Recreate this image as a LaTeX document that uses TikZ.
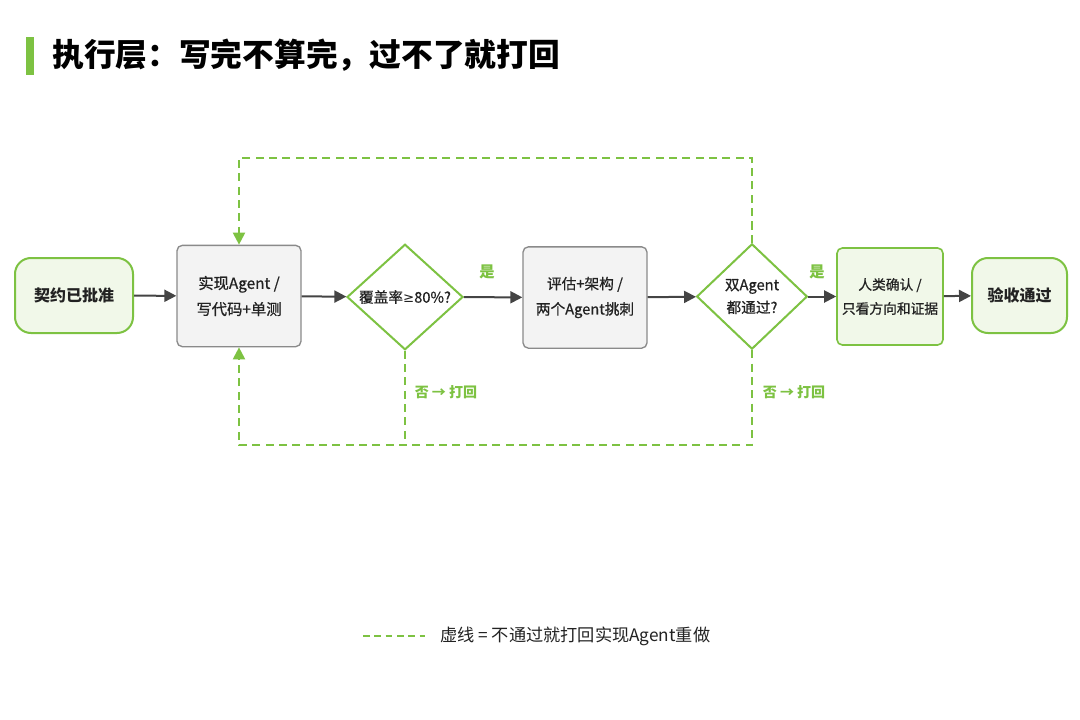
\documentclass[tikz,border=0pt]{standalone}
\usepackage{fontspec}
\setmainfont{Noto Sans CJK SC}
\newfontfamily\medf{Noto Sans CJK SC}[FakeBold=0.7]
\newfontfamily\symf{DejaVu Sans}
\usetikzlibrary{shapes.geometric,arrows.meta}
\definecolor{lgreen}{HTML}{7DC242}
\definecolor{lfill}{HTML}{F1F8E9}
\definecolor{gfill}{HTML}{F3F3F3}
\definecolor{gedge}{HTML}{8A8A8A}
\definecolor{darr}{HTML}{444444}
\definecolor{txt}{HTML}{222222}
\tikzset{
  termbox/.style={draw=lgreen,line width=1.5pt,fill=lfill,rounded corners=12pt,align=center,text=txt,font=\fontsize{12}{15}\selectfont\bfseries,inner sep=0pt},
  greybox/.style={draw=gedge,line width=1pt,fill=gfill,rounded corners=4pt,align=center,text=txt,inner sep=0pt,minimum width=93pt,minimum height=76pt},
  humanbox/.style={draw=lgreen,line width=1.2pt,fill=lfill,rounded corners=4pt,align=center,text=txt,font=\medf\fontsize{10.3}{18}\selectfont,inner sep=0pt,minimum width=79.5pt,minimum height=72.75pt},
  decide/.style={shape=diamond,draw=lgreen,line width=1.5pt,fill=white,align=center,text=txt,font=\medf\fontsize{11}{17}\selectfont,inner sep=0pt},
  flow/.style={draw=darr,line width=1.5pt,-{Triangle[length=9pt,width=9pt]}},
  loopline/.style={draw=lgreen,line width=1.5pt,dash pattern=on 6pt off 4pt},
  looparrow/.style={loopline,-{Triangle[length=9pt,width=9pt]}},
  glabel/.style={text=lgreen,font=\fontsize{11.5}{13}\selectfont\bfseries,inner sep=0pt},
}
\begin{document}
\begin{tikzpicture}[x=0.75pt,y=-0.75pt]
\path[use as bounding box,fill=white] (0,0) rectangle (1080,720);
% title
\fill[lgreen] (26,37) rectangle (34,75);
\node[anchor=west,inner sep=0pt,text=black,font=\fontsize{23.8}{26}\selectfont\bfseries] (title) at (52,55) {执行层：写完不算完，过不了就打回};
% nodes
\node[termbox,minimum width=88.5pt,minimum height=56.25pt] (n1) at (74,295.5) {契约已批准};
\node[greybox,font=\medf\fontsize{11.5}{19.5}\selectfont] (n2) at (239,296) {实现Agent /\\写代码+单测};
\node[decide,minimum width=87pt,minimum height=78pt] (d1) at (405,297) {覆盖率{\symf\fontsize{10}{12}\selectfont ≥}80\%?};
\node[greybox,font=\medf\fontsize{11}{19}\selectfont] (n3) at (585,297.5) {评估+架构 /\\两个Agent挑刺};
\node[decide,minimum width=83pt,minimum height=79pt] (d2) at (752,296.5) {双Agent\\都通过?};
\node[humanbox] (n4) at (890,296.5) {人类确认 /\\只看方向和证据};
\node[termbox,minimum width=71.25pt,minimum height=56.25pt] (n5) at (1019.5,295.5) {验收通过};
% main flow
\draw[flow] (n1) -- (n2);
\draw[flow] (n2) -- (d1);
\draw[flow] (d1) -- (n3);
\draw[flow] (n3) -- (d2);
\draw[flow] (d2) -- (n4);
\draw[flow] (n4) -- (n5);
\node[glabel] (yes1) at (487,272) {是};
\node[glabel] (yes2) at (817,272) {是};
% loops
\coordinate (tl) at (239,158);
\coordinate (bl) at (239,445);
\draw[looparrow] (d2.north) |- (tl) -- (n2.north);
\draw[looparrow] (d2.south) |- (bl) -- (n2.south);
\draw[loopline] (d1.south) -- (d1.south |- bl);
\node[glabel,font=\fontsize{10.5}{13}\selectfont\bfseries] (no1) at (446,392) {否 → 打回};
\node[glabel,font=\fontsize{10.5}{13}\selectfont\bfseries] (no2) at (794,392) {否 → 打回};
% legend
\coordinate (la) at (363,636);
\coordinate (lb) at (425,636);
\draw[loopline,dash pattern=on 5pt off 3.5pt] (la) -- (lb);
\node[anchor=west,inner sep=0pt,text=txt,font=\fontsize{12.9}{14}\selectfont] (legend) at (440,636) {虚线 = 不通过就打回实现Agent重做};
\end{tikzpicture}
\end{document}
